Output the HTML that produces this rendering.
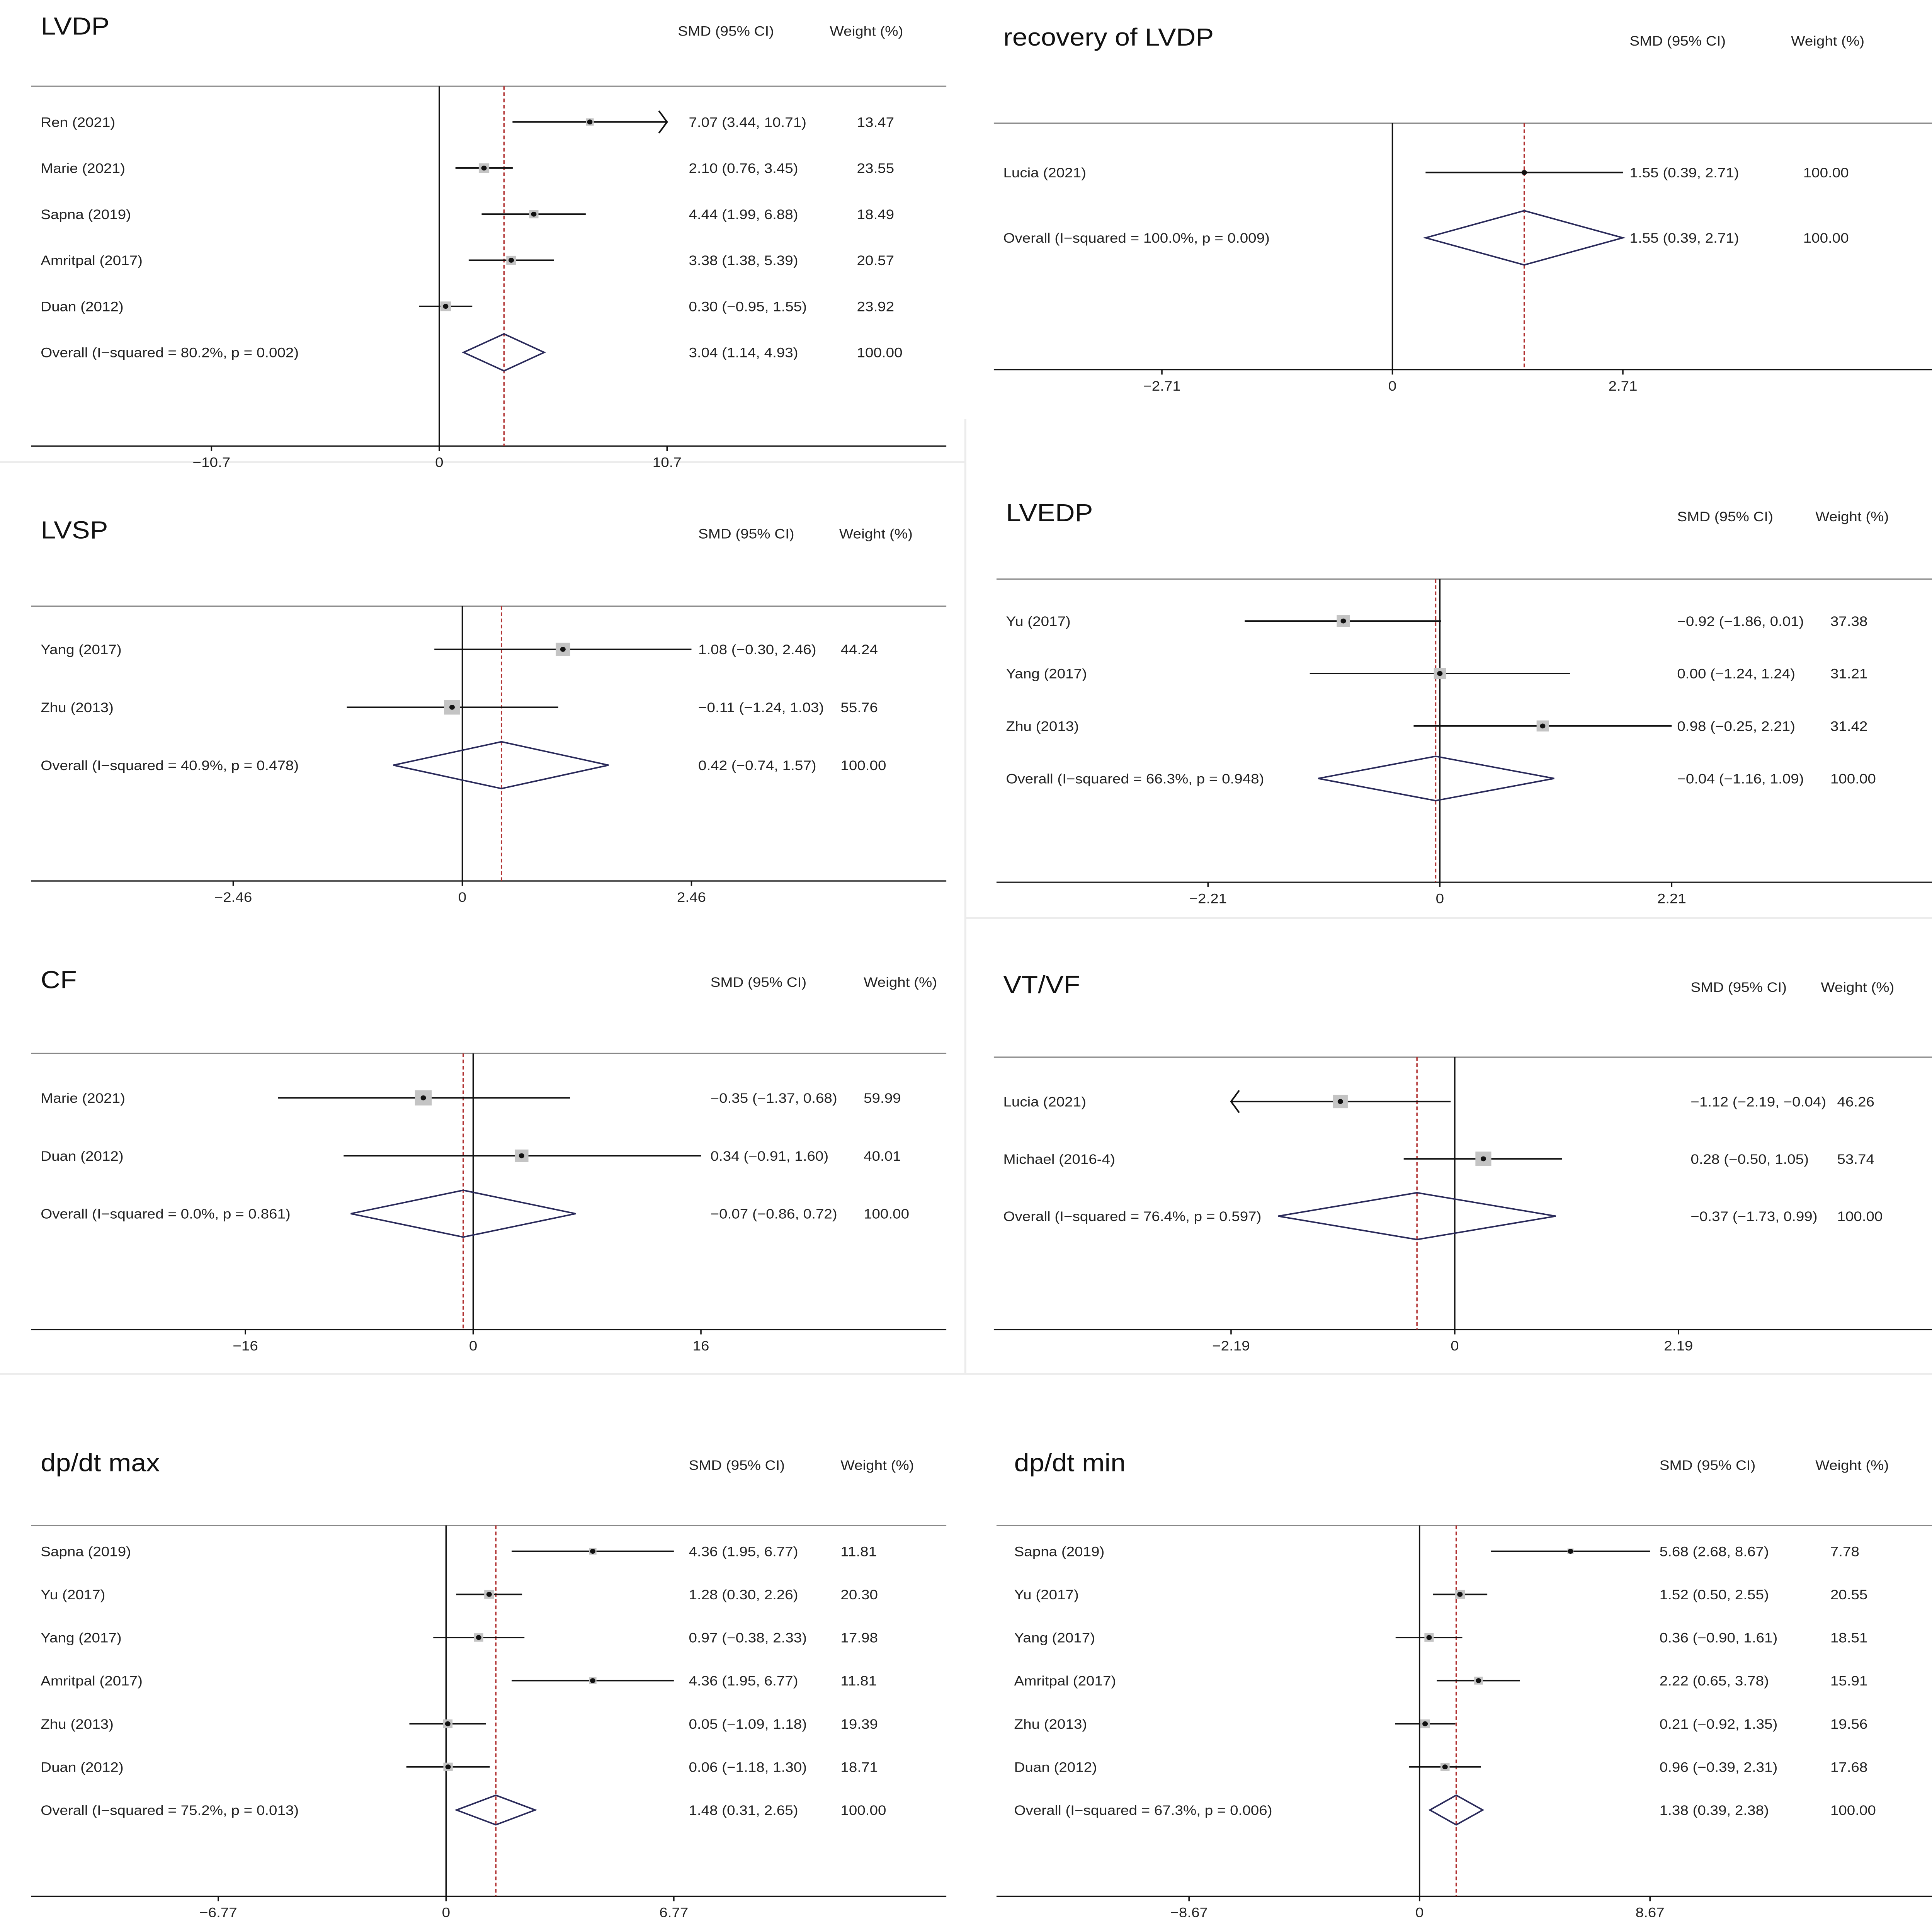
<!DOCTYPE html>
<html><head><meta charset="utf-8"><style>
html,body{margin:0;padding:0;background:#fff;overflow:hidden;width:100%;height:100%;}
svg{display:block;width:100vw;height:100vh;}
text{font-family:"Liberation Sans",sans-serif;}
</style></head><body>
<svg id="chart" viewBox="0 0 1425 1568" preserveAspectRatio="none" xmlns="http://www.w3.org/2000/svg"></svg>
<script>
// ---- data ----
const lvdpStudies=["Ren (2021)","Marie  (2021)","Sapna  (2019)","Amritpal (2017)","Duan (2012)"];
const lvdpEst=[7.07,2.10,4.44,3.38,0.30];
const lvdpLo=[3.44,0.76,1.99,1.38,-0.95];
const lvdpHi=[10.71,3.45,6.88,5.39,1.55];
const lvdpW=[13.47,23.55,18.49,20.57,23.92];
const lvdpOverall=[3.04,1.14,4.93];
const lvdpHet="Overall  (I−squared = 80.2%, p = 0.002)";
const lvdpTicks=["−10.7","0","10.7"];

const recStudies=["Lucia (2021)"];
const recEst=[1.55];const recLo=[0.39];const recHi=[2.71];const recW=[100.00];
const recOverall=[1.55,0.39,2.71];
const recHet="Overall  (I−squared = 100.0%, p = 0.009)";
const recTicks=["−2.71","0","2.71"];

const lvspStudies=["Yang (2017)","Zhu (2013)"];
const lvspEst=[1.08,-0.11];const lvspLo=[-0.30,-1.24];const lvspHi=[2.46,1.03];const lvspW=[44.24,55.76];
const lvspOverall=[0.42,-0.74,1.57];
const lvspHet="Overall  (I−squared = 40.9%, p = 0.478)";
const lvspTicks=["−2.46","0","2.46"];

const lvedpStudies=["Yu (2017)","Yang (2017)","Zhu (2013)"];
const lvedpEst=[-0.92,0.00,0.98];const lvedpLo=[-1.86,-1.24,-0.25];const lvedpHi=[0.01,1.24,2.21];const lvedpW=[37.38,31.21,31.42];
const lvedpOverall=[-0.04,-1.16,1.09];
const lvedpHet="Overall  (I−squared = 66.3%, p = 0.948)";
const lvedpTicks=["−2.21","0","2.21"];

const cfStudies=["Marie  (2021)","Duan (2012)"];
const cfEst=[-0.35,0.34];const cfLo=[-1.37,-0.91];const cfHi=[0.68,1.60];const cfW=[59.99,40.01];
const cfOverall=[-0.07,-0.86,0.72];
const cfHet="Overall  (I−squared = 0.0%, p = 0.861)";
const cfTicks=["−16","0","16"];

const vtStudies=["Lucia (2021)","Michael  (2016-4)"];
const vtEst=[-1.12,0.28];const vtLo=[-2.19,-0.50];const vtHi=[-0.04,1.05];const vtW=[46.26,53.74];
const vtOverall=[-0.37,-1.73,0.99];
const vtHet="Overall  (I−squared = 76.4%, p = 0.597)";
const vtTicks=["−2.19","0","2.19"];

const maxStudies=["Sapna  (2019)","Yu (2017)","Yang (2017)","Amritpal (2017)","Zhu (2013)","Duan (2012)"];
const maxEst=[4.36,1.28,0.97,4.36,0.05,0.06];const maxLo=[1.95,0.30,-0.38,1.95,-1.09,-1.18];const maxHi=[6.77,2.26,2.33,6.77,1.18,1.30];
const maxW=[11.81,20.30,17.98,11.81,19.39,18.71];
const maxOverall=[1.48,0.31,2.65];
const maxHet="Overall  (I−squared = 75.2%, p = 0.013)";
const maxTicks=["−6.77","0","6.77"];

const minStudies=["Sapna  (2019)","Yu (2017)","Yang (2017)","Amritpal (2017)","Zhu (2013)","Duan (2012)"];
const minEst=[5.68,1.52,0.36,2.22,0.21,0.96];const minLo=[2.68,0.50,-0.90,0.65,-0.92,-0.39];const minHi=[8.67,2.55,1.61,3.78,1.35,2.31];
const minW=[7.78,20.55,18.51,15.91,19.56,17.68];
const minOverall=[1.38,0.39,2.38];
const minHet="Overall  (I−squared = 67.3%, p = 0.006)";
const minTicks=["−8.67","0","8.67"];

// ---- layout (not data) ----
const panels=[
 {name:"lvdp",title:"LVDP",S:lvdpStudies,E:lvdpEst,L:lvdpLo,H:lvdpHi,W:lvdpW,O:lvdpOverall,het:lvdpHet,ticks:lvdpTicks,tickV:10.7,
  tx:30,ty:28,hx:500,hy:29,wx:612,x0:23,x1:698,top:70,ax:362,zero:324,tickPx:168,r0:99,dr:37.4,ctx:508,wtx:632,dh:15},
 {name:"recovery-lvdp",title:"recovery of LVDP",S:recStudies,E:recEst,L:recLo,H:recHi,W:recW,O:recOverall,het:recHet,ticks:recTicks,tickV:2.71,
  tx:740,ty:37,hx:1202,hy:37,wx:1321,x0:733,x1:1425,top:100,ax:300,zero:1027,tickPx:170,r0:140,dr:53,ctx:1202,wtx:1330,dh:22},
 {name:"lvsp",title:"LVSP",S:lvspStudies,E:lvspEst,L:lvspLo,H:lvspHi,W:lvspW,O:lvspOverall,het:lvspHet,ticks:lvspTicks,tickV:2.46,
  tx:30,ty:437,hx:515,hy:437,wx:619,x0:23,x1:698,top:492,ax:715,zero:341,tickPx:169,r0:527,dr:47,ctx:515,wtx:620,dh:19},
 {name:"lvedp",title:"LVEDP",S:lvedpStudies,E:lvedpEst,L:lvedpLo,H:lvedpHi,W:lvedpW,O:lvedpOverall,het:lvedpHet,ticks:lvedpTicks,tickV:2.21,
  tx:742,ty:423,hx:1237,hy:423,wx:1339,x0:735,x1:1425,top:470,ax:716,zero:1062,tickPx:171,r0:504,dr:42.6,ctx:1237,wtx:1350,dh:18},
 {name:"cf",title:"CF",S:cfStudies,E:cfEst,L:cfLo,H:cfHi,W:cfW,O:cfOverall,het:cfHet,ticks:cfTicks,tickV:1.6,
  tx:30,ty:802,hx:524,hy:801,wx:637,x0:23,x1:698,top:855,ax:1079,zero:349,tickPx:168,r0:891,dr:47,ctx:524,wtx:637,dh:19},
 {name:"vt-vf",title:"VT/VF",S:vtStudies,E:vtEst,L:vtLo,H:vtHi,W:vtW,O:vtOverall,het:vtHet,ticks:vtTicks,tickV:2.19,
  tx:740,ty:806,hx:1247,hy:805,wx:1343,x0:733,x1:1425,top:858,ax:1079,zero:1073,tickPx:165,r0:894,dr:46.5,ctx:1247,wtx:1355,dh:19},
 {name:"dpdt-max",title:"dp/dt max",S:maxStudies,E:maxEst,L:maxLo,H:maxHi,W:maxW,O:maxOverall,het:maxHet,ticks:maxTicks,tickV:6.77,
  tx:30,ty:1194,hx:508,hy:1193,wx:620,x0:23,x1:698,top:1238,ax:1539,zero:329,tickPx:168,r0:1259,dr:35,ctx:508,wtx:620,dh:12},
 {name:"dpdt-min",title:"dp/dt min",S:minStudies,E:minEst,L:minLo,H:minHi,W:minW,O:minOverall,het:minHet,ticks:minTicks,tickV:8.67,
  tx:748,ty:1194,hx:1224,hy:1193,wx:1339,x0:735,x1:1425,top:1238,ax:1539,zero:1047,tickPx:170,r0:1259,dr:35,ctx:1224,wtx:1350,dh:12}
];
const NS="http://www.w3.org/2000/svg";
const svg=document.getElementById('chart');
function mk(tag,attrs,parent,txt){const e=document.createElementNS(NS,tag);for(const k in attrs)e.setAttribute(k,attrs[k]);if(txt!==undefined)e.textContent=txt;parent.appendChild(e);return e;}
const f2=v=>(v<0?"−":"")+Math.abs(v).toFixed(2);
const sep=mk('g',{stroke:'#ececec','stroke-width':1.5},svg);


mk('line',{x1:712,y1:340,x2:712,y2:1115},sep);
mk('line',{x1:0,y1:375,x2:712,y2:375},sep);
mk('line',{x1:712,y1:745,x2:1425,y2:745},sep);
mk('line',{x1:0,y1:1115,x2:1425,y2:1115},sep);
panels.forEach(p=>{
  const g=mk('g',{},svg);
  
  
  const sc=p.tickPx/p.tickV;
  const X=v=>p.zero+v*sc;
  let t=mk('text',{x:p.tx,y:p.ty,'font-size':20,fill:'#111'},g,p.title);
  
  t=mk('text',{x:p.hx,y:p.hy,'font-size':11,fill:'#222'},g,"SMD (95% CI)");
  
  t=mk('text',{x:p.wx,y:p.hy,'font-size':11,fill:'#222'},g,"Weight (%)");
  
  let l=mk('line',{x1:p.x0,y1:p.top,x2:p.x1,y2:p.top,stroke:'#888','stroke-width':1},g);
  
  l=mk('line',{x1:p.x0,y1:p.ax,x2:p.x1,y2:p.ax,stroke:'#111','stroke-width':1},g);
  
  [-p.tickV,0,p.tickV].forEach((v,i)=>{
    const tk=mk('line',{x1:X(v),y1:p.ax,x2:X(v),y2:p.ax+4,stroke:'#111'},g);
    
    const tl=mk('text',{x:X(v),y:p.ax+17,'font-size':11,'text-anchor':'middle',fill:'#222'},g,p.ticks[i]);
    
  });
  l=mk('line',{x1:X(0),y1:p.top,x2:X(0),y2:p.ax,stroke:'#111','stroke-width':1},g);
  
  l=mk('line',{x1:X(p.O[0]),y1:p.top,x2:X(p.O[0]),y2:p.ax,stroke:'#b03030','stroke-width':1,'stroke-dasharray':'3,2'},g);
  
  p.S.forEach((s,i)=>{
    const y=p.r0+i*p.dr;
    let tx=mk('text',{x:p.tx,y:y+4,'font-size':11,fill:'#222'},g,s);
    
    let a=X(p.L[i]),b=X(p.H[i]);
    let lo=Math.max(a,X(-p.tickV)),hi=Math.min(b,X(p.tickV));
    const ci=mk('line',{x1:lo,y1:y,x2:hi,y2:y,stroke:'#111','stroke-width':1.2},g);
    
    if(b>X(p.tickV)-0.5 && p.name==='lvdp'){const ar=mk('path',{d:`M${hi-6},${y-9} L${hi},${y} L${hi-6},${y+9}`,fill:'none',stroke:'#111','stroke-width':1.2},g);}
    if(a<=X(-p.tickV)+0.5 && p.name==='vt-vf'){const ar=mk('path',{d:`M${lo+6},${y-9} L${lo},${y} L${lo+6},${y+9}`,fill:'none',stroke:'#111','stroke-width':1.2},g);}
    const bs=Math.max(3,Math.sqrt(p.W[i])*1.6);
    if(p.S.length>1){const bx=mk('rect',{x:X(p.E[i])-bs/2,y:y-bs/2,width:bs,height:bs,fill:'#c4c4c4'},g);}
    const pt=mk('circle',{cx:X(p.E[i]),cy:y,r:2,fill:'#111'},g);
    
    tx=mk('text',{x:p.ctx,y:y+4,'font-size':11,fill:'#222'},g,`${f2(p.E[i])} (${f2(p.L[i])}, ${f2(p.H[i])})`);
    
    tx=mk('text',{x:p.wtx,y:y+4,'font-size':11,fill:'#222'},g,p.W[i].toFixed(2));
    
  });
  const oy=p.r0+p.S.length*p.dr;
  let tx=mk('text',{x:p.tx,y:oy+4,'font-size':11,fill:'#222'},g,p.het);
  
  const d=mk('polygon',{points:`${X(p.O[1])},${oy} ${X(p.O[0])},${oy-p.dh} ${X(p.O[2])},${oy} ${X(p.O[0])},${oy+p.dh}`,fill:'none',stroke:'#2a2a5a','stroke-width':1.2},g);
  
  tx=mk('text',{x:p.ctx,y:oy+4,'font-size':11,fill:'#222'},g,`${f2(p.O[0])} (${f2(p.O[1])}, ${f2(p.O[2])})`);
  
  tx=mk('text',{x:p.wtx,y:oy+4,'font-size':11,fill:'#222'},g,"100.00");
  
});
</script>
</body></html>
